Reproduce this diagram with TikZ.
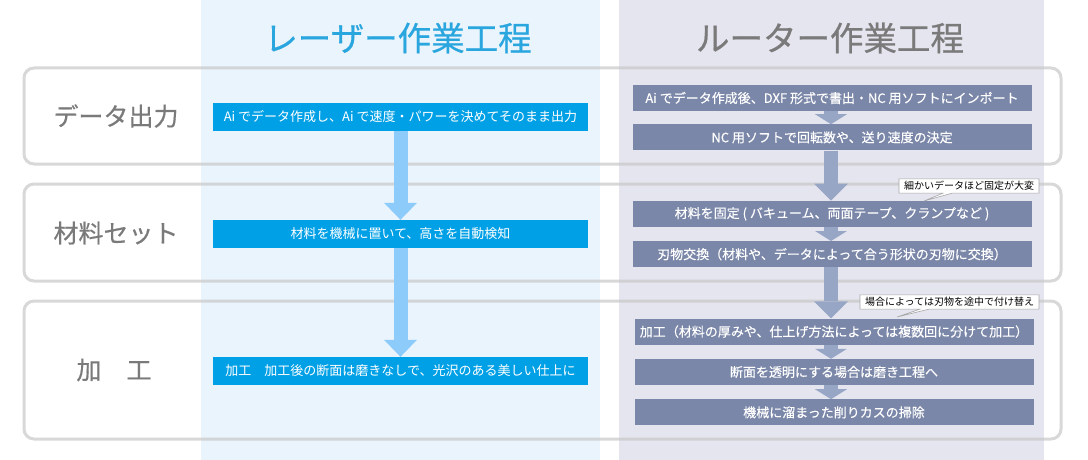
\documentclass[tikz,border=0pt]{standalone}
\usepackage{fontspec}
\setmainfont{Noto Sans CJK JP}
\newfontfamily\heavyfont[FakeBold=0.6]{Noto Sans CJK JP}
\newfontfamily\midfont[FakeBold=0.25]{Noto Sans CJK JP}
\usepackage{tikz}
\usetikzlibrary{arrows.meta,shapes.callouts}
\usetikzlibrary{positioning}

\definecolor{laserbg}{HTML}{EAF4FD}
\definecolor{routerbg}{HTML}{E4E5EF}
\definecolor{laserbox}{HTML}{00A0E6}
\definecolor{laserarrow}{HTML}{8CCBFA}
\definecolor{routerbox}{HTML}{7B87A9}
\definecolor{routerarrow}{HTML}{98A6C6}
\definecolor{lasertitle}{HTML}{2AA6DF}
\definecolor{labelgray}{HTML}{7A7A7A}
\definecolor{framegray}{HTML}{C8C8C8}

\begin{document}
\begin{tikzpicture}[x=1pt,y=-1pt,
	rowframe/.style={draw=framegray,draw opacity=0.7,line width=3pt,rounded corners=10pt},
	rowlabel/.style={text=labelgray,font=\heavyfont\fontsize{25}{25}\selectfont},
	laserstep/.style={fill=laserbox,text=white,minimum width=375pt,minimum height=28pt,inner sep=0pt,font=\fontsize{13}{14}\selectfont},
	routerstep/.style={fill=routerbox,text=white,minimum width=399pt,minimum height=26pt,inner sep=0pt,font=\midfont\fontsize{13}{14}\selectfont},
	laserflow/.style={draw=laserarrow,line width=14pt,-{Triangle[width=33pt,length=17pt,line width=0pt]}},
	routerflow/.style={draw=routerarrow,line width=14pt,-{Triangle[width=34pt,length=17pt,line width=0pt]}},
	routernext/.style={draw=routerarrow,line width=14pt,-{Triangle[width=32pt,length=10pt,line width=0pt]}},
	note/.style={rectangle callout,draw=gray!70,fill=white,line width=0.6pt,inner xsep=5pt,inner ysep=2.5pt,
		callout pointer width=9pt,font=\fontsize{10}{10}\selectfont}]
	\useasboundingbox (0,0) rectangle (1088,460);
	% columns
	\fill[laserbg] (201,0) rectangle (600,460);
	\fill[routerbg] (619,0) rectangle (1044,460);
	\node[text=lasertitle,font=\heavyfont\fontsize{33.5}{34}\selectfont] (lasertitle) at (398,38) {レーザー作業工程};
	\node[text=labelgray,font=\heavyfont\fontsize{33.5}{34}\selectfont] (routertitle) at (830,38) {ルーター作業工程};
	% rows
	\draw[rowframe] (24,68) rectangle (1061,164);
	\draw[rowframe] (24,184) rectangle (1061,281);
	\draw[rowframe] (24,301) rectangle (1061,439);
	\node[rowlabel] (data) at (116,116) {データ出力};
	\node[rowlabel] (set) at (116,233) {材料セット};
	\node[rowlabel] (kako) at (114,370) {加　工};
	% laser
	\node[laserstep] (l1) at (400.5,117) {Ai でデータ作成し、Ai で速度・パワーを決めてそのまま出力};
	\node[laserstep] (l2) at (400.5,234) {材料を機械に置いて、高さを自動検知};
	\node[laserstep] (l3) at (400.5,371) {加工　加工後の断面は磨きなしで、光沢のある美しい仕上に};
	\draw[laserflow] (l1) -- (l2);
	\draw[laserflow] (l2) -- (l3);
	% router
	\node[routerstep] (r1) at (832,98) {Ai でデータ作成後、DXF 形式で書出・NC 用ソフトにインポート};
	\node[routerstep,below=13pt of r1] (r2) {NC 用ソフトで回転数や、送り速度の決定};
	\node[routerstep,below=50pt of r2] (r3) {材料を固定 ( バキューム、両面テープ、クランプなど )};
	\node[routerstep,below=14pt of r3] (r4) {刃物交換（材料や、データによって合う形状の刃物に交換）};
	\node[routerstep,below=51pt of r4,xshift=2pt] (r5) {加工（材料の厚みや、仕上げ方法によっては複数回に分けて加工）};
	\node[routerstep,below=14pt of r5] (r6) {断面を透明にする場合は磨き工程へ};
	\node[routerstep,below=14pt of r6] (r7) {機械に溜まった削りカスの掃除};
	\draw[routernext] (r1.south -| 831,0) -- (r2.north -| 831,0);
	\draw[routerflow] (r2.south -| 831,0) -- (r3.north -| 831,0);
	\draw[routernext] (r3.south -| 831,0) -- (r4.north -| 831,0);
	\draw[routerflow] (r4.south -| 831,0) -- (r5.north -| 831,0);
	\draw[routernext] (r5.south -| 831,0) -- (r6.north -| 831,0);
	\draw[routernext] (r6.south -| 831,0) -- (r7.north -| 831,0);
	% notes
	\node[note,callout absolute pointer={(924,201)}] (fixnote) at (969,186) {細かいデータほど固定が大変};
	\node[note,callout absolute pointer={(897,317)}] (toolnote) at (949.5,302) {場合によっては刃物を途中で付け替え};
\end{tikzpicture}
\end{document}
